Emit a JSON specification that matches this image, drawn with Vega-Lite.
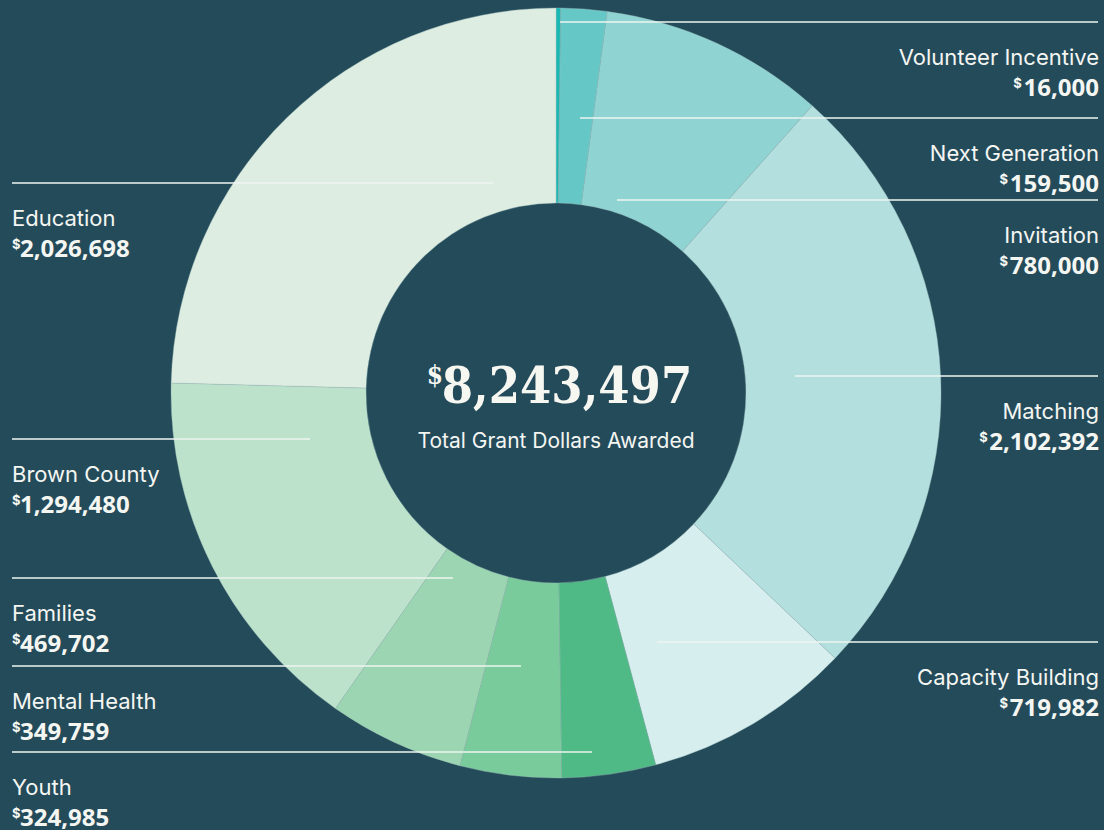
{
  "$schema": "https://vega.github.io/schema/vega-lite/v6.json",
  "width": 1096,
  "height": 786,
  "autosize": {"type": "none"},
  "padding": {"left": 8, "top": 0, "right": 0, "bottom": 44},
  "background": "#244b5a",
  "config": {"view": {"stroke": null}, "font": "Inter"},
  "datasets": {
    "grants": [
      {"order": 1, "category": "Volunteer Incentive", "amount": 16000, "side": "right", "lineY": 22, "lineX": 560},
      {"order": 2, "category": "Next Generation", "amount": 159500, "side": "right", "lineY": 118, "lineX": 580},
      {"order": 3, "category": "Invitation", "amount": 780000, "side": "right", "lineY": 200, "lineX": 617},
      {"order": 4, "category": "Matching", "amount": 2102392, "side": "right", "lineY": 376, "lineX": 795},
      {"order": 5, "category": "Capacity Building", "amount": 719982, "side": "right", "lineY": 642, "lineX": 657},
      {"order": 6, "category": "Youth", "amount": 324985, "side": "left", "lineY": 752, "lineX": 592},
      {"order": 7, "category": "Mental Health", "amount": 349759, "side": "left", "lineY": 666, "lineX": 521},
      {"order": 8, "category": "Families", "amount": 469702, "side": "left", "lineY": 578, "lineX": 453},
      {"order": 9, "category": "Brown County", "amount": 1294480, "side": "left", "lineY": 439, "lineX": 310},
      {"order": 10, "category": "Education", "amount": 2026698, "side": "left", "lineY": 183, "lineX": 493}
    ],
    "summary": [{"total": 8243497, "caption": "Total Grant Dollars Awarded"}]
  },
  "layer": [
    {
      "data": {"name": "grants"},
      "mark": {"type": "arc", "innerRadius": 190, "outerRadius": 385, "stroke": "#9dbdbc", "strokeWidth": 0.4},
      "encoding": {
        "theta": {"field": "amount", "type": "quantitative", "stack": true},
        "order": {"field": "order", "type": "quantitative"},
        "color": {
          "field": "category",
          "type": "nominal",
          "scale": {
            "domain": ["Volunteer Incentive", "Next Generation", "Invitation", "Matching", "Capacity Building", "Youth", "Mental Health", "Families", "Brown County", "Education"],
            "range": ["#1ab8b3", "#66c8c6", "#8fd3d3", "#b3dfdf", "#d7eeef", "#4fba85", "#7acb9b", "#9cd5b1", "#bde2cc", "#deede1"]
          },
          "legend": null
        }
      }
    },
    {
      "data": {"name": "grants"},
      "transform": [{"calculate": "datum.side === 'right' ? 1098 : 12", "as": "edgeX"}],
      "mark": {"type": "rule", "color": "#eef4f0", "strokeWidth": 1.5},
      "encoding": {
        "x": {"field": "lineX", "type": "quantitative", "scale": {"domain": [8, 1104], "nice": false, "zero": false}, "axis": null},
        "x2": {"field": "edgeX"},
        "y": {"field": "lineY", "type": "quantitative", "scale": {"domain": [786, 0], "nice": false, "zero": false}, "axis": null}
      }
    },
    {
      "data": {"name": "grants"},
      "transform": [{"filter": "datum.side === 'right'"}],
      "mark": {"type": "text", "align": "right", "baseline": "alphabetic", "dy": 43, "fontSize": 22, "color": "#f4f6f2"},
      "encoding": {
        "x": {"datum": 1099, "type": "quantitative"},
        "y": {"field": "lineY", "type": "quantitative"},
        "text": {"field": "category"}
      }
    },
    {
      "data": {"name": "grants"},
      "transform": [{"filter": "datum.side === 'right'"}],
      "mark": {"type": "text", "align": "right", "baseline": "alphabetic", "dy": 74, "font": "Open Sans", "fontSize": 24, "fontWeight": "bold", "color": "#f4f6f2"},
      "encoding": {
        "x": {"datum": 1099, "type": "quantitative"},
        "y": {"field": "lineY", "type": "quantitative"},
        "text": {"field": "amount", "type": "quantitative", "format": ","}
      }
    },
    {
      "data": {"name": "grants"},
      "transform": [
        {"filter": "datum.side === 'right'"},
        {"calculate": "length(toString(datum.amount))", "as": "nd"},
        {"calculate": "1097 - datum.nd * 13.73 - floor((datum.nd - 1) / 3) * 6.5", "as": "dollarX"}
      ],
      "mark": {"type": "text", "align": "right", "baseline": "alphabetic", "dy": 66, "fontSize": 13, "fontWeight": "bold", "color": "#f4f6f2"},
      "encoding": {
        "x": {"field": "dollarX", "type": "quantitative"},
        "y": {"field": "lineY", "type": "quantitative"},
        "text": {"value": "$"}
      }
    },
    {
      "data": {"name": "grants"},
      "transform": [{"filter": "datum.side === 'left'"}],
      "mark": {"type": "text", "align": "left", "baseline": "alphabetic", "dy": 43, "fontSize": 22, "color": "#f4f6f2"},
      "encoding": {
        "x": {"datum": 12, "type": "quantitative"},
        "y": {"field": "lineY", "type": "quantitative"},
        "text": {"field": "category"}
      }
    },
    {
      "data": {"name": "grants"},
      "transform": [{"filter": "datum.side === 'left'"}],
      "mark": {"type": "text", "align": "left", "baseline": "alphabetic", "dy": 74, "font": "Open Sans", "fontSize": 24, "fontWeight": "bold", "color": "#f4f6f2"},
      "encoding": {
        "x": {"datum": 20, "type": "quantitative"},
        "y": {"field": "lineY", "type": "quantitative"},
        "text": {"field": "amount", "type": "quantitative", "format": ","}
      }
    },
    {
      "data": {"name": "grants"},
      "transform": [{"filter": "datum.side === 'left'"}],
      "mark": {"type": "text", "align": "left", "baseline": "alphabetic", "dy": 66, "fontSize": 13, "fontWeight": "bold", "color": "#f4f6f2"},
      "encoding": {
        "x": {"datum": 12, "type": "quantitative"},
        "y": {"field": "lineY", "type": "quantitative"},
        "text": {"value": "$"}
      }
    },
    {
      "data": {"name": "summary"},
      "mark": {"type": "text", "align": "center", "baseline": "alphabetic", "dx": 11, "dy": 10, "font": "DejaVu Serif Condensed, DejaVu Serif", "fontSize": 50, "fontWeight": "bold", "color": "#f7f7f2"},
      "encoding": {"text": {"field": "total", "type": "quantitative", "format": ","}}
    },
    {
      "data": {"name": "summary"},
      "mark": {"type": "text", "align": "right", "baseline": "alphabetic", "dx": -113, "dy": -9, "font": "DejaVu Serif Condensed, DejaVu Serif", "fontSize": 26, "fontWeight": "bold", "color": "#f7f7f2"},
      "encoding": {"text": {"value": "$"}}
    },
    {
      "data": {"name": "summary"},
      "mark": {"type": "text", "align": "center", "baseline": "middle", "dy": 49, "fontSize": 21, "color": "#f4f6f2"},
      "encoding": {"text": {"field": "caption"}}
    }
  ]
}
